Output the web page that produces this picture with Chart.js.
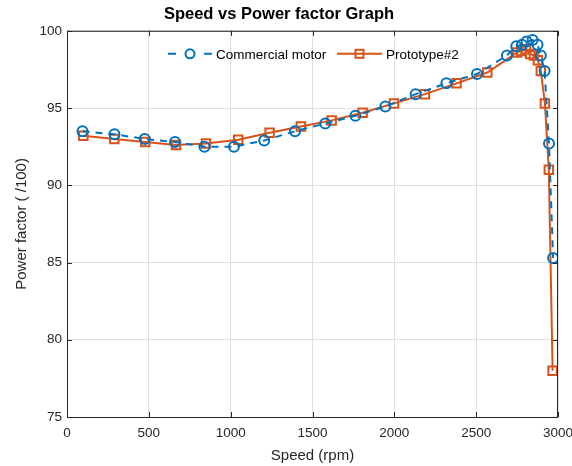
<!DOCTYPE html>
<html>
<head>
<meta charset="utf-8">
<script src="https://cdn.jsdelivr.net/npm/chart.js@4"></script>
<style>
  html, body { margin: 0; padding: 0; background: #fff; }
  #wrap { width: 572px; height: 466px; }
</style>
</head>
<body>
<div id="wrap"><canvas id="pf-chart" width="572" height="466"></canvas></div>
<script>
const commercialSpeed = [95, 290, 475, 660, 840, 1020, 1205, 1393, 1578, 1762, 1945, 2130, 2318, 2505, 2688, 2745, 2780, 2808, 2845, 2875, 2895, 2918, 2945, 2970];
const commercialPf    = [93.5, 93.3, 93.0, 92.8, 92.5, 92.5, 92.9, 93.5, 94.0, 94.5, 95.1, 95.9, 96.6, 97.2, 98.4, 99.0, 99.1, 99.3, 99.4, 99.1, 98.4, 97.4, 92.7, 85.3];

const prototypeSpeed  = [100, 289, 478, 666, 849, 1046, 1238, 1429, 1617, 1806, 1998, 2187, 2380, 2568, 2750, 2775, 2805, 2830, 2853, 2877, 2895, 2920, 2944, 2967];
const prototypePf     = [93.2, 93.0, 92.8, 92.6, 92.7, 92.95, 93.4, 93.8, 94.2, 94.7, 95.3, 95.9, 96.6, 97.3, 98.6, 98.7, 98.8, 98.5, 98.4, 98.1, 97.4, 95.3, 91.0, 78.0];

const seriesLabels = ['Commercial motor', 'Prototype#2'];
const xTicks = [0, 500, 1000, 1500, 2000, 2500, 3000];
const yTicks = [75, 80, 85, 90, 95, 100];

const BLUE   = '#0072BD';
const ORANGE = '#D95319';
const AXIS   = '#262626';
const FONT   = "'Liberation Sans', Arial, Helvetica, sans-serif";

const toPoints = (xs, ys) => xs.map((x, i) => ({ x, y: ys[i] }));

// MATLAB style box, inward ticks, legend inside the axes
const boxPlugin = {
    id: 'box',
    afterDraw(chart) {
        const { ctx, chartArea: a, scales } = chart;
        ctx.save();
        ctx.strokeStyle = AXIS;
        ctx.lineWidth = 1;
        ctx.strokeRect(a.left + 0.5, a.top + 0.5, a.right - a.left - 1, a.bottom - a.top);

        ctx.beginPath();
        for (const v of xTicks) {
            const px = Math.round(scales.x.getPixelForValue(v)) + 0.5;
            ctx.moveTo(px, a.bottom); ctx.lineTo(px, a.bottom - 5);
            ctx.moveTo(px, a.top);    ctx.lineTo(px, a.top + 5);
        }
        for (const v of yTicks) {
            const py = Math.round(scales.y.getPixelForValue(v)) + 0.5;
            ctx.moveTo(a.left, py);  ctx.lineTo(a.left + 5, py);
            ctx.moveTo(a.right, py); ctx.lineTo(a.right - 5, py);
        }
        ctx.stroke();

        // legend
        const ly = a.top + 23;
        ctx.font = `13.5px ${FONT}`;
        ctx.textBaseline = 'middle';
        ctx.fillStyle = '#000';
        ctx.lineWidth = 2;

        ctx.strokeStyle = BLUE;
        ctx.beginPath();
        ctx.moveTo(168, ly); ctx.lineTo(176, ly);
        ctx.moveTo(204, ly); ctx.lineTo(212, ly);
        ctx.stroke();
        ctx.beginPath();
        ctx.arc(190, ly, 4.5, 0, Math.PI * 2);
        ctx.stroke();
        ctx.fillText(seriesLabels[0], 216, ly + 1);

        ctx.strokeStyle = ORANGE;
        ctx.beginPath();
        ctx.moveTo(337, ly); ctx.lineTo(382, ly);
        ctx.stroke();
        ctx.strokeRect(355.5, ly - 4, 8, 8);
        ctx.fillText(seriesLabels[1], 386, ly + 1);
        ctx.restore();
    },
};

const ctx = document.getElementById('pf-chart').getContext('2d');
new Chart(ctx, {
    type: 'line',
    data: {
        datasets: [
            {
                label: seriesLabels[0],
                data: toPoints(commercialSpeed, commercialPf),
                borderColor: BLUE,
                borderWidth: 2,
                borderDash: [7, 6],
                pointStyle: 'circle',
                pointRadius: 5,
                pointBorderWidth: 2,
                pointBorderColor: BLUE,
                pointBackgroundColor: 'rgba(0,0,0,0)',
                tension: 0,
            },
            {
                label: seriesLabels[1],
                data: toPoints(prototypeSpeed, prototypePf),
                borderColor: ORANGE,
                borderWidth: 2,
                pointStyle: 'rect',
                pointRadius: 6,
                pointBorderWidth: 2,
                pointBorderColor: ORANGE,
                pointBackgroundColor: 'rgba(0,0,0,0)',
                tension: 0,
            },
        ],
    },
    options: {
        responsive: false,
        animation: false,
        layout: { padding: { left: 0, right: 14, top: 0, bottom: 0 } },
        plugins: {
            legend: { display: false },
            tooltip: { enabled: false },
            title: {
                display: true,
                text: 'Speed vs Power factor Graph',
                color: '#000',
                font: { family: FONT, size: 16.5, weight: 'bold' },
                padding: { top: 5, bottom: 6 },
            },
        },
        scales: {
            x: {
                type: 'linear',
                min: 0,
                max: 3000,
                afterFit: s => { s.height = 49; s.paddingRight = 0; s.paddingLeft = 0; },
                afterBuildTicks: s => { s.ticks = xTicks.map(v => ({ value: v })); },
                grid: { color: '#e0e0e0', drawTicks: false },
                border: { display: false },
                ticks: {
                    color: AXIS, padding: 8, maxRotation: 0,
                    font: { family: FONT, size: 13.5 },
                    callback: v => String(v),
                },
                title: {
                    display: true,
                    text: 'Speed (rpm)',
                    color: AXIS,
                    font: { family: FONT, size: 15 },
                    padding: { top: 0, bottom: 1 },
                },
            },
            y: {
                min: 75,
                max: 100,
                afterFit: s => { s.width = 67; },
                afterBuildTicks: s => { s.ticks = yTicks.map(v => ({ value: v })); },
                grid: { color: '#e0e0e0', drawTicks: false },
                border: { display: false },
                ticks: {
                    color: AXIS, padding: 5,
                    font: { family: FONT, size: 13.5 },
                    callback: v => String(v),
                },
                title: {
                    display: true,
                    text: 'Power factor ( /100)',
                    color: AXIS,
                    font: { family: FONT, size: 15 },
                    padding: { top: 13, bottom: 0 },
                },
            },
        },
    },
    plugins: [boxPlugin],
});
</script>
</body>
</html>
